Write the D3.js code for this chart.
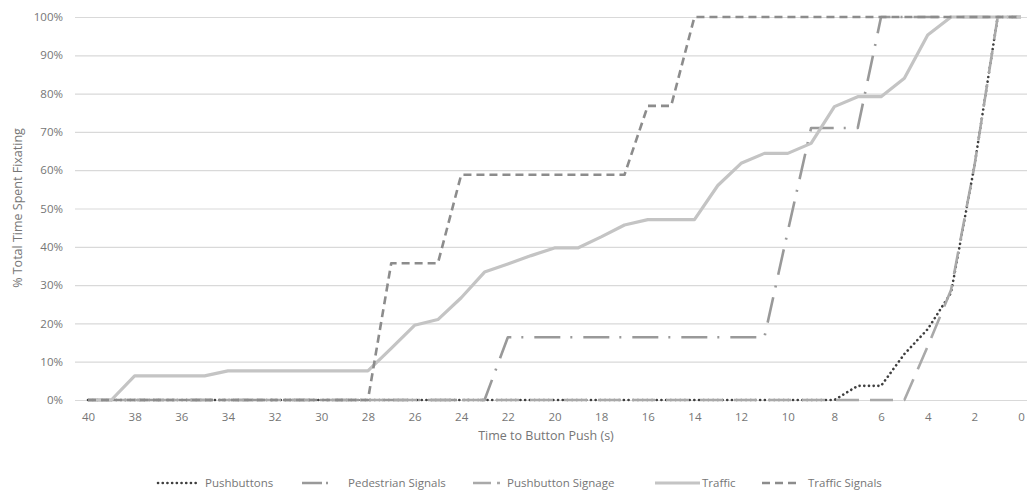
<!DOCTYPE html>
<html>
<head>
<meta charset="utf-8">
<script src="https://cdn.jsdelivr.net/npm/d3@7"></script>
<style>
  body { margin: 0; background: #fff; }
  text { font-family: "Open Sans", "Liberation Sans", sans-serif; fill: #767676; }
</style>
</head>
<body>
<script>
// seconds before the button push (category axis, right to left)
const seconds = [40, 39, 38, 37, 36, 35, 34, 33, 32, 31, 30, 29, 28, 27, 26, 25, 24, 23, 22, 21,
  20, 19, 18, 17, 16, 15, 14, 13, 12, 11, 10, 9, 8, 7, 6, 5, 4, 3, 2, 1, 0];
const xTicks = [40, 38, 36, 34, 32, 30, 28, 26, 24, 22, 20, 18, 16, 14, 12, 10, 8, 6, 4, 2, 0];
const yTicks = [0, 10, 20, 30, 40, 50, 60, 70, 80, 90, 100];

// % of total time spent fixating, one value per second above
const pushbuttons = [0, 0, 0, 0, 0, 0, 0, 0, 0, 0, 0, 0, 0, 0, 0, 0, 0, 0, 0, 0,
  0, 0, 0, 0, 0, 0, 0, 0, 0, 0, 0, 0, 0, 3.7, 3.7, 12, 18.5, 28, 61, 100, 100];
const pedestrianSignals = [0, 0, 0, 0, 0, 0, 0, 0, 0, 0, 0, 0, 0, 0, 0, 0, 0, 0, 16.4, 16.4,
  16.4, 16.4, 16.4, 16.4, 16.4, 16.4, 16.4, 16.4, 16.4, 16.4, 44, 71, 71, 71, 100, 100, 100, 100, 100, 100, 100];
const pushbuttonSignage = [0, 0, 0, 0, 0, 0, 0, 0, 0, 0, 0, 0, 0, 0, 0, 0, 0, 0, 0, 0,
  0, 0, 0, 0, 0, 0, 0, 0, 0, 0, 0, 0, 0, 0, 0, 0, 14, 28.7, 61, 100, 100];
const traffic = [0, 0, 6.3, 6.3, 6.3, 6.3, 7.6, 7.6, 7.6, 7.6, 7.6, 7.6, 7.6, 13.5, 19.5, 21, 26.7, 33.4, 35.5, 37.7,
  39.7, 39.7, 42.6, 45.7, 47.1, 47.1, 47.1, 56, 61.8, 64.4, 64.4, 67, 76.6, 79.2, 79.2, 84, 95.3, 100, 100, 100, 100];
const trafficSignals = [0, 0, 0, 0, 0, 0, 0, 0, 0, 0, 0, 0, 0, 35.7, 35.7, 35.7, 58.8, 58.8, 58.8, 58.8,
  58.8, 58.8, 58.8, 58.8, 76.8, 76.8, 100, 100, 100, 100, 100, 100, 100, 100, 100, 100, 100, 100, 100, 100, 100];

const seriesNames = ["Pushbuttons", "Pedestrian Signals", "Pushbutton Signage", "Traffic", "Traffic Signals"];
const seriesValues = [pushbuttons, pedestrianSignals, pushbuttonSignage, traffic, trafficSignals];

// line styles for each series
const styles = [
  { color: "#3f3f3f", width: 2.6, dash: "0.1 4.6", cap: "round" },
  { color: "#999999", width: 2.6, dash: "26 10 2 11", cap: "butt" },
  { color: "#a9a9a9", width: 2.6, dash: "23 11", cap: "butt" },
  { color: "#c4c4c4", width: 3.2, dash: null, cap: "butt" },
  { color: "#8c8c8c", width: 2.6, dash: "8 5", cap: "butt" }
];

const W = 1027, H = 491;
const plotLeft = 75, plotRight = 1027;

const svg = d3.select("body").append("svg")
  .attr("width", W)
  .attr("height", H);

const x = d3.scaleLinear().domain([40, 0]).range([88, 1021]);
const y = d3.scaleLinear().domain([0, 100]).range([400, 17]);

// gridlines + y labels
const yAxis = svg.append("g")
  .attr("transform", `translate(${plotLeft},0)`)
  .call(d3.axisLeft(y).tickValues(yTicks).tickFormat(d => d + "%")
    .tickSize(-(plotRight - plotLeft)).tickPadding(12));
yAxis.select(".domain").remove();
yAxis.selectAll(".tick line").attr("stroke", "#d9d9d9").attr("stroke-width", 1.2);
yAxis.selectAll(".tick text").style("font-size", "11.5px").attr("fill", "#767676");

// x labels
const xAxis = svg.append("g")
  .attr("transform", "translate(0,400)")
  .call(d3.axisBottom(x).tickValues(xTicks).tickSize(0).tickPadding(13));
xAxis.select(".domain").remove();
xAxis.selectAll(".tick text").style("font-size", "11.5px").attr("fill", "#767676");

// axis titles
svg.append("text")
  .attr("x", 546)
  .attr("y", 440)
  .attr("text-anchor", "middle")
  .style("font-size", "12.5px")
  .text("Time to Button Push (s)");

svg.append("text")
  .attr("transform", "rotate(-90)")
  .attr("x", -208)
  .attr("y", 22)
  .attr("text-anchor", "middle")
  .style("font-size", "12.5px")
  .text("% Total Time Spent Fixating");

const line = d3.line()
  .x((d, i) => x(seconds[i]))
  .y(d => y(d));

seriesValues.forEach(function (vals, i) {
  const s = styles[i];
  svg.append("path")
    .datum(vals)
    .attr("fill", "none")
    .attr("stroke", s.color)
    .attr("stroke-width", s.width)
    .attr("stroke-dasharray", s.dash)
    .attr("stroke-linecap", s.cap)
    .attr("stroke-linejoin", "round")
    .attr("d", line);
});

// legend
const legendItems = [
  { x1: 158, x2: 198, tx: 205 },
  { x1: 302, x2: 344, tx: 348 },
  { x1: 473, x2: 503, tx: 507 },
  { x1: 655, x2: 700, tx: 702 },
  { x1: 762, x2: 799, tx: 808 }
];
const legendDash = ["0.1 4.6", "20 4 2 20", "18 6 3 20", null, "8 5"];

const legend = svg.append("g").attr("transform", "translate(0,483)");
legendItems.forEach(function (d, i) {
  const s = styles[i];
  legend.append("line")
    .attr("x1", d.x1).attr("x2", d.x2)
    .attr("y1", 0).attr("y2", 0)
    .attr("stroke", s.color)
    .attr("stroke-width", s.width)
    .attr("stroke-dasharray", legendDash[i])
    .attr("stroke-linecap", s.cap);
  legend.append("text")
    .attr("x", d.tx)
    .attr("y", 0)
    .attr("dy", "0.35em")
    .style("font-size", "11.5px")
    .text(seriesNames[i]);
});
</script>
</body>
</html>
